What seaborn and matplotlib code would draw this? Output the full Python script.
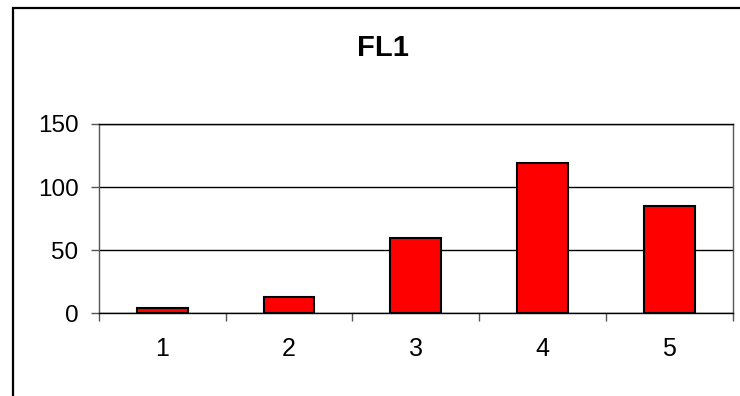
import matplotlib
matplotlib.use('Agg')
import matplotlib.pyplot as plt
import seaborn as sns
from matplotlib.patches import Rectangle

# data
categories = ['1', '2', '3', '4', '5']
values = [4, 13, 60, 119, 85]
title = 'FL1'

sns.set_style('white')
plt.rcParams['font.family'] = ['Liberation Sans', 'DejaVu Sans']
plt.rcParams['text.color'] = 'black'
plt.rcParams['xtick.labelcolor'] = 'black'
plt.rcParams['ytick.labelcolor'] = 'black'

fig = plt.figure(figsize=(7.4, 3.96), dpi=100)
ax = fig.add_axes([0.1338, 0.2088, 0.9899 - 0.1338, 0.6869 - 0.2088])

sns.barplot(x=categories, y=values, color='#FF0000', saturation=1,
            edgecolor='black', linewidth=1.5, width=0.4, ax=ax)

ax.set_xlim(-0.5, 4.5)
ax.set_ylim(0, 150)
ax.set_yticks([0, 50, 100, 150])
ax.set_axisbelow(True)
ax.yaxis.grid(True, color='black', linewidth=1)
ax.set_xlabel('')
ax.set_ylabel('')

# tick marks between categories, labels under the bars
ax.set_xticks(range(len(categories)))
ax.set_xticklabels(categories)
ax.set_xticks([i - 0.5 for i in range(len(categories) + 1)], minor=True)
ax.tick_params(axis='x', which='major', length=0, pad=17, labelsize=18,
               labelcolor='black')
ax.tick_params(axis='x', which='minor', length=5.8, width=1, color='#555555',
               direction='out', bottom=True)
ax.tick_params(axis='y', length=5.8, width=1, color='#555555', direction='out',
               left=True, pad=9, labelsize=17.5, labelcolor='black')

for side in ['left', 'right']:
    ax.spines[side].set_color('#555555')
    ax.spines[side].set_linewidth(1)
ax.spines['top'].set_color('black')
ax.spines['bottom'].set_color('black')
ax.spines['top'].set_linewidth(1)
ax.spines['bottom'].set_linewidth(1)

fig.text(383 / 740, 1 - 56 / 396, title, ha='center', va='baseline',
         fontsize=21, fontweight='bold', color='black')

# outer chart border (cut off at right and bottom)
fig.patches.append(Rectangle((12.5 / 740, -0.2), 1.5, 1.2 - 7.5 / 396,
                             transform=fig.transFigure, fill=False,
                             edgecolor='black', linewidth=1.6))

fig.savefig('out.png', dpi=100)
